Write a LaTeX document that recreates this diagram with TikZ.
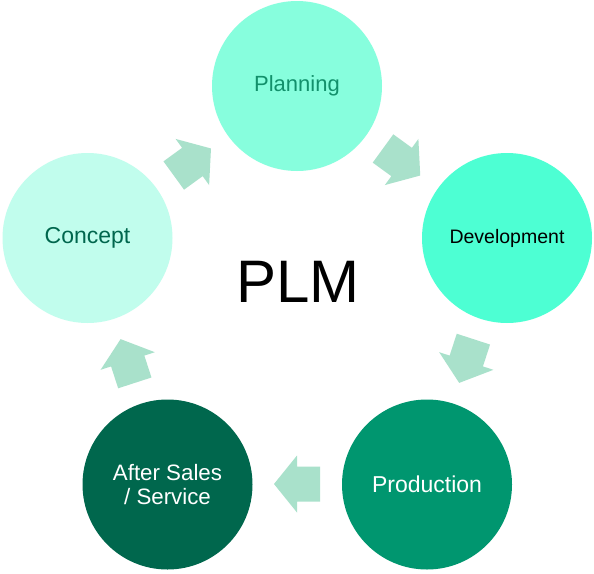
\documentclass[tikz,border=0pt]{standalone}
\usepackage{fontspec}
\setmainfont{Liberation Sans}
\definecolor{planfill}{HTML}{87FEDD}
\definecolor{plantext}{HTML}{12906B}
\definecolor{devfill}{HTML}{4DFFD3}
\definecolor{concfill}{HTML}{C1FDED}
\definecolor{conctext}{HTML}{00664D}
\definecolor{prodfill}{HTML}{00966F}
\definecolor{afterfill}{HTML}{00674D}
\definecolor{arrowfill}{HTML}{A9E1CB}
\tikzset{
  phase/.style={circle, minimum size=170pt, inner sep=0pt, draw=none, align=center},
  blockarrow/.pic={\fill[arrowfill] (-23,-17.5) -- (0,-17.5) -- (0,-28.5) -- (23,0) -- (0,28.5) -- (0,17.5) -- (-23,17.5) -- cycle;}
}
\begin{document}
\begin{tikzpicture}[x=1pt,y=-1pt]
\useasboundingbox[fill=white] (0,0) rectangle (594,573);
\coordinate (O) at (297,306);
\node[phase, fill=planfill, text=plantext, font=\fontsize{22}{24}\selectfont] (plan) at (297,86) {Planning};
\node[phase, fill=devfill, text=black, font=\fontsize{19.5}{22}\selectfont] (dev) at (507,238) {Development};
\node[phase, fill=prodfill, text=white, font=\fontsize{23}{26}\selectfont] (prod) at (427,484.5) {Production};
\node[phase, fill=afterfill, text=white, font=\fontsize{22.3}{24}\selectfont] (after) at (167.5,484.5) {After Sales\\/ Service};
\node[phase, fill=concfill, text=conctext, font=\fontsize{23}{26}\selectfont] (conc) at (87.5,238) {Concept};
\node[font=\fontsize{60}{66}\selectfont, inner sep=0pt] (plm) at (298,281.5) {PLM};
\pic[rotate=36] at ([shift={(-126:178)}]O) {blockarrow};
\pic[rotate=-36] at ([shift={(-54:178)}]O) {blockarrow};
\pic[rotate=-108] at ([shift={(18:178)}]O) {blockarrow};
\pic[rotate=-180] at ([shift={(90:178)}]O) {blockarrow};
\pic[rotate=-252] at ([shift={(162:178)}]O) {blockarrow};
\end{tikzpicture}
\end{document}
